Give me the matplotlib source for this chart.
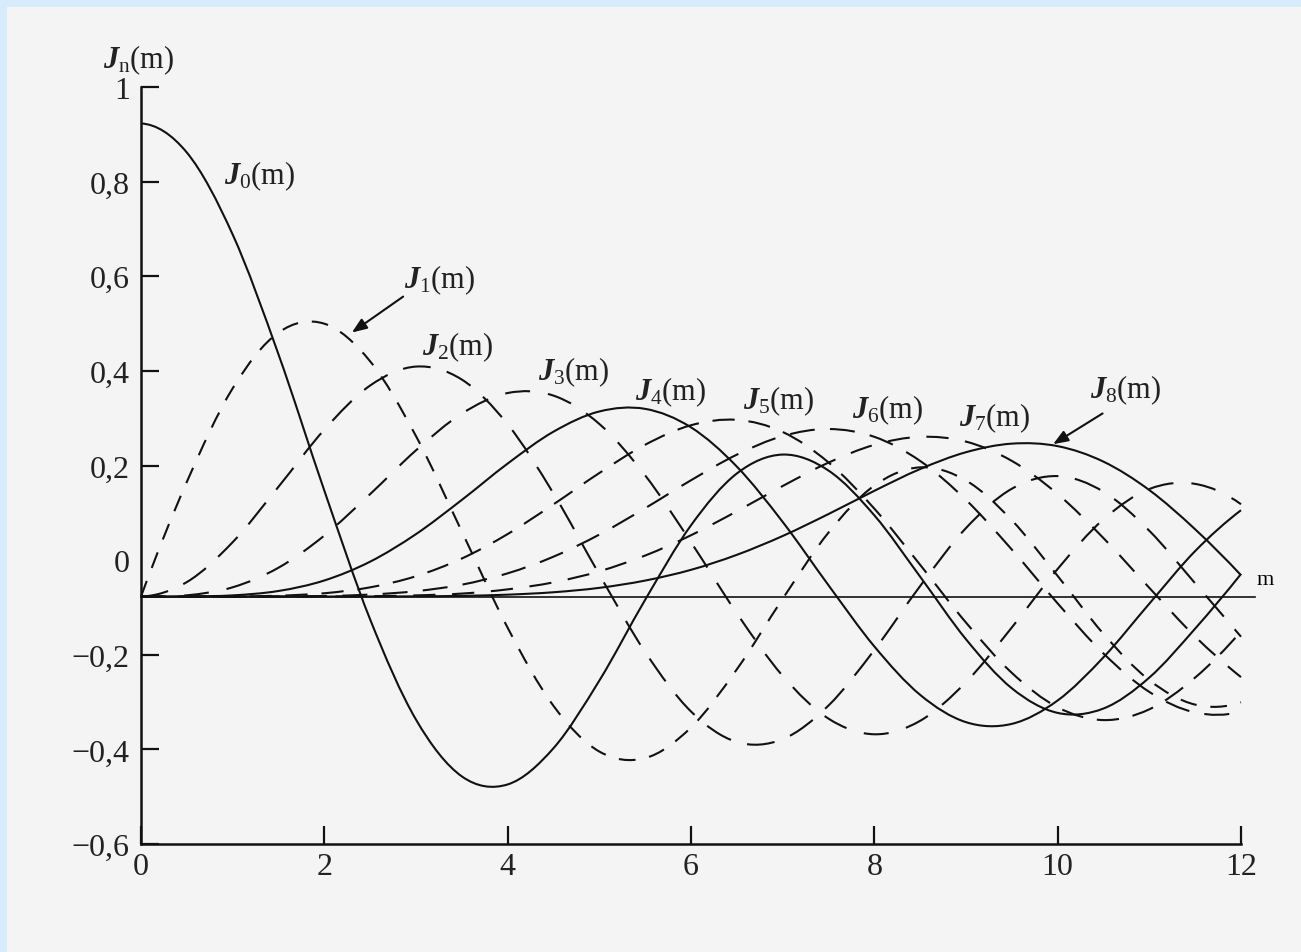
import numpy as np
import matplotlib
matplotlib.use('Agg')
import matplotlib.pyplot as plt
from matplotlib.path import Path
from matplotlib.patches import PathPatch, Rectangle

plt.rcParams['font.family'] = ['Liberation Serif', 'DejaVu Serif']
plt.rcParams['mathtext.fontset'] = 'custom'
plt.rcParams['mathtext.rm'] = 'Liberation Serif'
plt.rcParams['mathtext.it'] = 'Liberation Serif:italic:bold'
plt.rcParams['lines.scale_dashes'] = False

# argument m and J_n(m) values, n = 0..8
m = [0.0, 0.5, 1.0, 1.5, 2.0, 2.5, 3.0, 3.5, 4.0, 4.5, 5.0, 5.5, 6.0,
     6.5, 7.0, 7.5, 8.0, 8.5, 9.0, 9.5, 10.0, 10.5, 11.0, 11.5, 12.0]
J0 = [1.0, 0.9385, 0.7652, 0.5118, 0.2239, -0.0484, -0.2601, -0.3801, -0.3971, -0.3205, -0.1776, -0.0068, 0.1506,
      0.2601, 0.3001, 0.2663, 0.1717, 0.0419, -0.0903, -0.1939, -0.2459, -0.2366, -0.1712, -0.0677, 0.0477]
J1 = [0.0, 0.2423, 0.4401, 0.5579, 0.5767, 0.4971, 0.3391, 0.1374, -0.0660, -0.2311, -0.3276, -0.3414, -0.2767,
      -0.1538, -0.0047, 0.1352, 0.2346, 0.2731, 0.2453, 0.1613, 0.0435, -0.0789, -0.1768, -0.2284, -0.2234]
J2 = [0.0, 0.0306, 0.1149, 0.2321, 0.3528, 0.4461, 0.4861, 0.4586, 0.3641, 0.2178, 0.0466, -0.1173, -0.2429,
      -0.3074, -0.3014, -0.2303, -0.1130, 0.0223, 0.1448, 0.2279, 0.2546, 0.2216, 0.1390, 0.0279, -0.0849]
J3 = [0.0, 0.0026, 0.0196, 0.0610, 0.1289, 0.2166, 0.3091, 0.3867, 0.4302, 0.4247, 0.3648, 0.2561, 0.1148,
      -0.0354, -0.1676, -0.2580, -0.2911, -0.2626, -0.1809, -0.0653, 0.0584, 0.1633, 0.2273, 0.2381, 0.1951]
J4 = [0.0, 0.0002, 0.0025, 0.0118, 0.0340, 0.0738, 0.1320, 0.2043, 0.2811, 0.3485, 0.3912, 0.3967, 0.3576,
      0.2747, 0.1578, 0.0239, -0.1054, -0.2078, -0.2655, -0.2691, -0.2196, -0.1283, -0.0150, 0.0962, 0.1825]
J5 = [0.0, 0.0, 0.0002, 0.0018, 0.0070, 0.0195, 0.0430, 0.0804, 0.1321, 0.1949, 0.2611, 0.3209, 0.3621,
      0.3735, 0.3479, 0.2835, 0.1858, 0.0670, -0.0550, -0.1613, -0.2341, -0.2611, -0.2383, -0.1712, -0.0735]
J6 = [0.0, 0.0, 0.0, 0.0002, 0.0012, 0.0042, 0.0114, 0.0251, 0.0491, 0.0843, 0.1310, 0.1868, 0.2458,
      0.2999, 0.3392, 0.3541, 0.3376, 0.2866, 0.2043, 0.0993, -0.0145, -0.1204, -0.2016, -0.2451, -0.2437]
J7 = [0.0, 0.0, 0.0, 0.0, 0.0002, 0.0008, 0.0025, 0.0063, 0.0152, 0.0300, 0.0534, 0.0867, 0.1296,
      0.1802, 0.2336, 0.2831, 0.3206, 0.3376, 0.3275, 0.2867, 0.2167, 0.1235, 0.0184, -0.0846, -0.1703]
J8 = [0.0, 0.0, 0.0, 0.0, 0.0, 0.0001, 0.0005, 0.0015, 0.0040, 0.0091, 0.0184, 0.0338, 0.0565,
      0.0882, 0.1280, 0.1744, 0.2235, 0.2695, 0.3051, 0.3232, 0.3179, 0.2851, 0.2250, 0.1421, 0.0451]
curves = [J0, J1, J2, J3, J4, J5, J6, J7, J8]

yticks = [-0.6, -0.4, -0.2, 0.0, 0.2, 0.4, 0.6, 0.8, 1.0]
ytick_labels = ['\u22120,6', '\u22120,4', '\u22120,2', '0', '0,2', '0,4', '0,6', '0,8', '1']
xticks = [0, 2, 4, 6, 8, 10, 12]

# the m axis of the drawing sits a bit below the printed zero
m_axis = -0.077

styles = ['-', (0, (12, 10)), (0, (20, 12)), (0, (18, 13)), '-',
          (0, (16, 10)), (0, (18, 11)), (0, (16, 12)), '-']


def smooth_path(x, y):
    # Catmull-Rom through the samples, written as cubic Bezier segments;
    # end tangents come from a quadratic through the last three samples
    p = np.column_stack([x, y])
    e = np.vstack([3 * p[0] - 3 * p[1] + p[2], p, 3 * p[-1] - 3 * p[-2] + p[-3]])
    verts, codes = [p[0]], [Path.MOVETO]
    for i in range(len(p) - 1):
        a, b, c, d = e[i], e[i + 1], e[i + 2], e[i + 3]
        verts += [b + (c - a) / 6, c - (d - b) / 6, c]
        codes += [Path.CURVE4] * 3
    return Path(verts, codes)


fig = plt.figure(figsize=(13.01, 9.53), dpi=100, facecolor='#f4f4f4')
# pale blue slide border
fig.patches.append(Rectangle((0, 0), 1, 1, transform=fig.transFigure, facecolor='#d6ecfb', edgecolor='none', zorder=-3))
fig.patches.append(Rectangle((7 / 1301, 0), 1, 945 / 953, transform=fig.transFigure, facecolor='#f4f4f4',
                             edgecolor='none', zorder=-2))

ax = fig.add_axes([141 / 1301, 108 / 953, 1100 / 1301, 757 / 953])
ax.patch.set_visible(False)
ax.set_xlim(0, 12)
ax.set_ylim(-0.6, 1.0)

for vals, ls in zip(curves, styles):
    path = smooth_path(m, np.array(vals) + m_axis)
    ax.add_patch(PathPatch(path, fill=False, edgecolor='#111111', lw=1.5, linestyle=ls,
                           capstyle='butt', clip_on=False))

ax.plot([0, 12.15], [m_axis, m_axis], color='#111111', lw=1.2, clip_on=False)
ax.text(12.26, m_axis + 0.035, 'm', fontsize=16, ha='center', va='center')

for s in ['top', 'right']:
    ax.spines[s].set_visible(False)
for s in ['left', 'bottom']:
    ax.spines[s].set_linewidth(1.8)
    ax.spines[s].set_color('#111111')

ax.set_xticks(xticks)
ax.set_xticklabels([str(t) for t in xticks])
ax.set_yticks(yticks)
ax.set_yticklabels(ytick_labels)
ax.tick_params(direction='in', length=13, width=1.6, labelsize=23, color='#111111', labelcolor='#222222')
ax.tick_params(axis='x', pad=6)
ax.tick_params(axis='y', pad=8)
ax.yaxis.get_major_ticks()[3].tick1line.set_visible(False)

labels = [(1.30, 0.813), (3.26, 0.593), (3.46, 0.452), (4.72, 0.399), (5.78, 0.357),
          (6.96, 0.338), (8.15, 0.319), (9.31, 0.302), (10.74, 0.361)]
for n, (lx, ly) in enumerate(labels):
    ax.text(lx, ly, r'$J_{%d}$(m)' % n, fontsize=22, ha='center', va='center', color='#222222')
ax.text(-0.02, 1.058, r'$J_{\mathrm{n}}$(m)', fontsize=22, ha='center', va='center', color='#222222', clip_on=False)

arrow = dict(arrowstyle='-|>,head_length=0.9,head_width=0.35', color='#111111', lw=1.5, shrinkA=0, shrinkB=0)
ax.annotate('', xy=(2.30, 0.481), xytext=(2.86, 0.557), arrowprops=arrow)
ax.annotate('', xy=(9.95, 0.245), xytext=(10.49, 0.310), arrowprops=arrow)

fig.savefig('out.png', dpi=100, facecolor=fig.get_facecolor())
